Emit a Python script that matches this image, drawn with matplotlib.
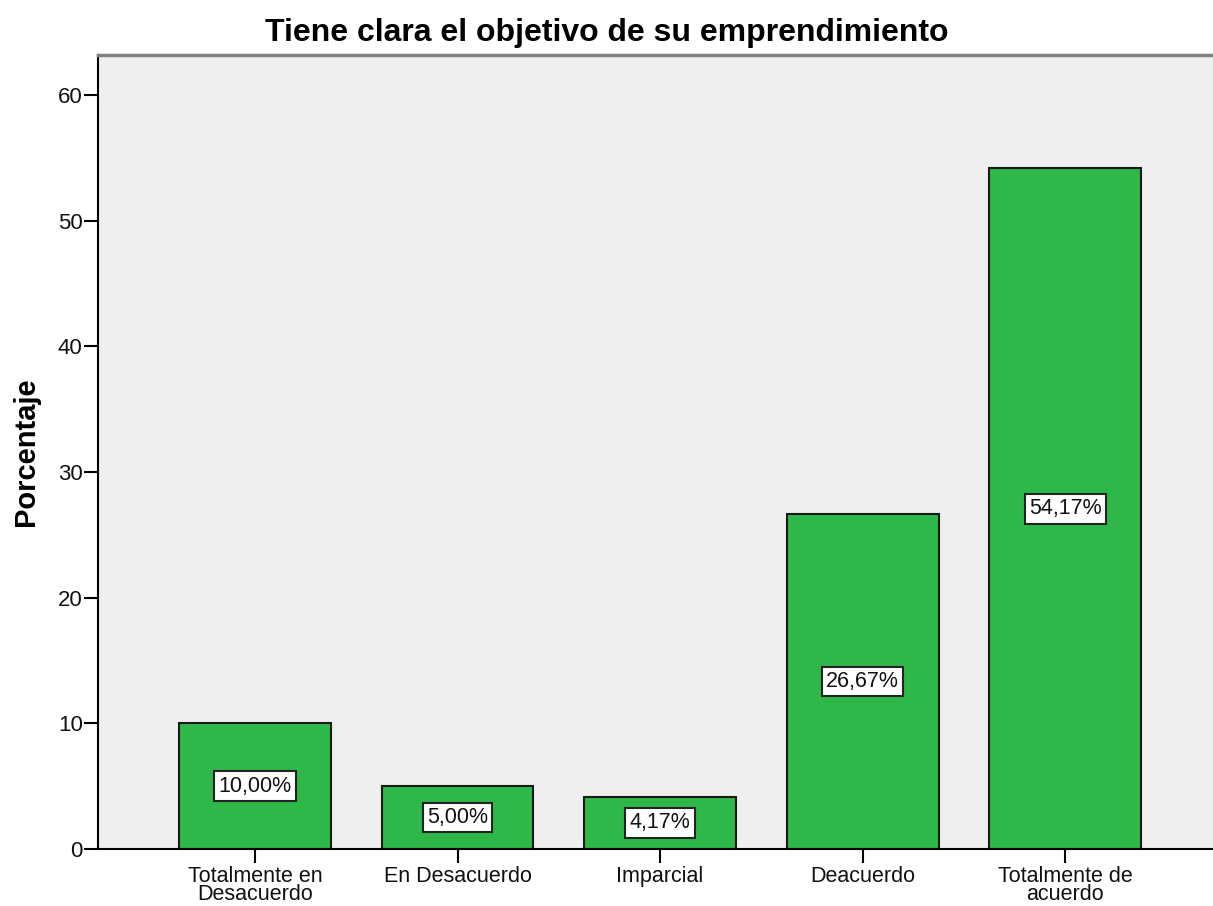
import matplotlib
matplotlib.use("Agg")
import matplotlib.pyplot as plt

categories = ["Totalmente en\nDesacuerdo", "En Desacuerdo", "Imparcial", "Deacuerdo", "Totalmente de\nacuerdo"]
values = [10.00, 5.00, 4.17, 26.67, 54.17]
labels = ["10,00%", "5,00%", "4,17%", "26,67%", "54,17%"]
yticks = [0, 10, 20, 30, 40, 50, 60]

plt.rcParams['font.family'] = ['Liberation Sans', 'DejaVu Sans']

fig = plt.figure(figsize=(12.13, 9.06), dpi=100)
ax = fig.add_axes([98/1213, 1-849/906, 1-98/1213+0.01, (849-55)/906])
ax.set_facecolor("#EFEFEF")

x = list(range(len(categories)))
ax.bar(x, values, width=0.75, color="#2EB84A", edgecolor="#1a1a1a", linewidth=1.5, zorder=2)
for xi, v, lab in zip(x, values, labels):
    ax.text(xi, v/2, lab, ha="center", va="center", fontsize=15.5, color="#111111", zorder=3,
            bbox=dict(boxstyle="square,pad=0.2", facecolor="white", edgecolor="#222222", linewidth=1.5))

ax.set_xlim(-0.775, 4.79)
ax.set_ylim(0, 63.2)
ax.set_yticks(yticks)
ax.set_yticklabels([str(t) for t in yticks], fontsize=16, color="#111111")
ax.set_xticks(x)
ax.set_xticklabels(categories, fontsize=15.5, linespacing=0.82, color="#111111")
ax.tick_params(axis="y", direction="out", length=10, width=1.5, pad=1)
ax.tick_params(axis="x", direction="out", length=10, width=1.5, pad=2)

ax.spines["left"].set_color("black")
ax.spines["left"].set_linewidth(1.5)
ax.spines["bottom"].set_color("black")
ax.spines["bottom"].set_linewidth(1.5)
ax.spines["top"].set_color("#808080")
ax.spines["top"].set_linewidth(2.5)
ax.spines["right"].set_visible(False)

ax.set_ylabel("Porcentaje", fontsize=21, fontweight="bold", labelpad=13)
fig.text(0.5, 1-33/906, "Tiene clara el objetivo de su emprendimiento", ha="center", va="center",
         fontsize=23, fontweight="bold")

fig.savefig("out.png", dpi=100)
